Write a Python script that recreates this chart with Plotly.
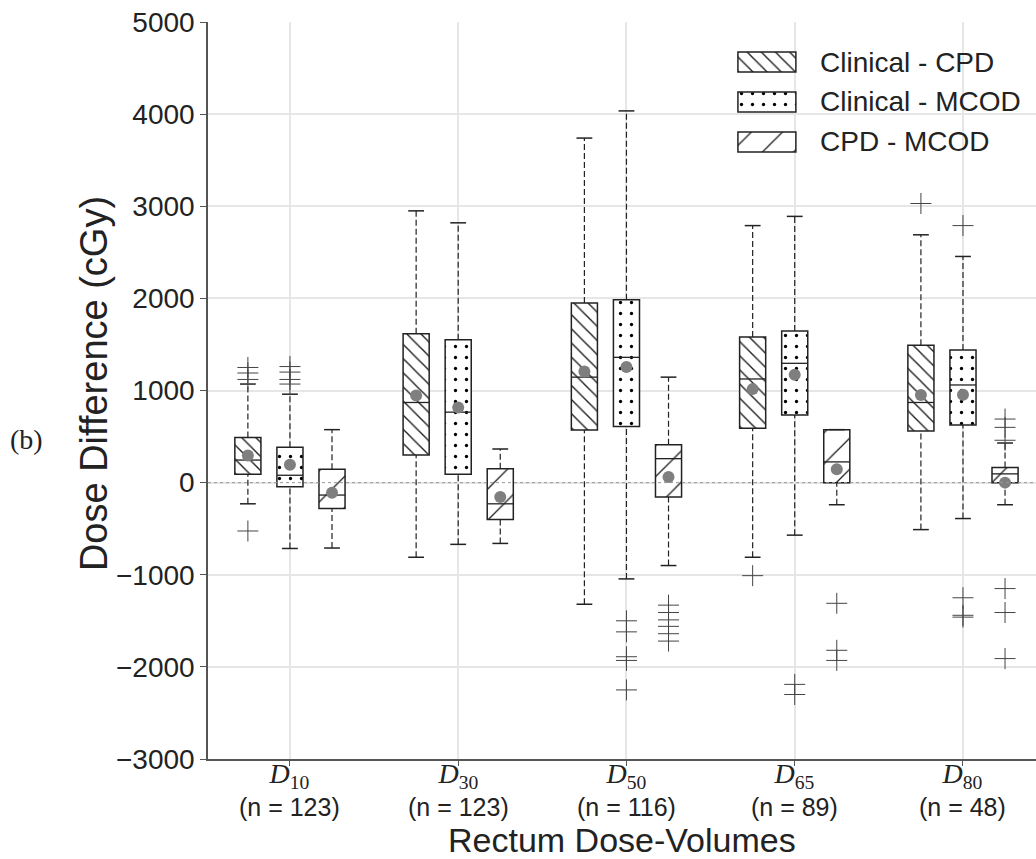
import plotly.graph_objects as go

# Rectum dose-volume metrics and sample sizes
groups = ["10", "30", "50", "65", "80"]
n_counts = [123, 123, 116, 89, 48]

series_names = ["Clinical - CPD", "Clinical - MCOD", "CPD - MCOD"]

# Box statistics (cGy) for each difference, one value per dose-volume
cpd_whislo = [-230, -810, -1320, -810, -510]
cpd_q1 = [90, 300, 570, 590, 560]
cpd_med = [245, 870, 1145, 1125, 870]
cpd_q3 = [490, 1615, 1950, 1580, 1490]
cpd_whishi = [1070, 2950, 3740, 2790, 2690]
cpd_mean = [295, 945, 1205, 1015, 950]
cpd_fliers = [[1250, 1190, 1120, -525], [], [], [-1010], [3030]]

mcod_whislo = [-715, -670, -1045, -570, -390]
mcod_q1 = [-45, 90, 610, 735, 625]
mcod_med = [80, 765, 1360, 1295, 1060]
mcod_q3 = [385, 1550, 1985, 1645, 1440]
mcod_whishi = [960, 2820, 4035, 2890, 2455]
mcod_mean = [195, 815, 1255, 1170, 955]
mcod_fliers = [[1260, 1200, 1120, 1070], [], [-1500, -1620, -1890, -1930, -2250],
               [-2190, -2300], [2790, -1250, -1440, -1460]]

diff_whislo = [-710, -660, -900, -240, -240]
diff_q1 = [-280, -400, -155, 0, 0]
diff_med = [-135, -230, 260, 225, 95]
diff_q3 = [145, 150, 410, 575, 165]
diff_whishi = [575, 365, 1145, 575, 430]
diff_mean = [-110, -155, 60, 145, 0]
diff_fliers = [[], [], [-1330, -1410, -1490, -1560, -1640, -1720],
               [-1310, -1820, -1930], [690, 600, 460, -1150, -1410, -1910]]

stats = [
    (cpd_whislo, cpd_q1, cpd_med, cpd_q3, cpd_whishi, cpd_mean, cpd_fliers),
    (mcod_whislo, mcod_q1, mcod_med, mcod_q3, mcod_whishi, mcod_mean, mcod_fliers),
    (diff_whislo, diff_q1, diff_med, diff_q3, diff_whishi, diff_mean, diff_fliers),
]

offsets = [-0.25, 0.0, 0.25]
box_w = 0.155
cap_half = 0.047
ink = "#222222"

patterns = [
    dict(shape="\\", size=10, solidity=0.14, fgcolor=ink, bgcolor="white", fillmode="replace"),
    dict(shape=".", size=11, solidity=0.07, fgcolor="black", bgcolor="white", fillmode="replace"),
    dict(shape="/", size=22, solidity=0.06, fgcolor=ink, bgcolor="white", fillmode="replace"),
]

fig = go.Figure()
centers = list(range(1, len(groups) + 1))

for k, (lo, q1, med, q3, hi, mean, fl) in enumerate(stats):
    xs = [c + offsets[k] for c in centers]

    # whiskers (dashed)
    wx, wy = [], []
    for x, a, b, c, d in zip(xs, lo, q1, q3, hi):
        wx += [x, x, None, x, x, None]
        wy += [a, b, None, c, d, None]
    fig.add_trace(go.Scatter(x=wx, y=wy, mode="lines", hoverinfo="skip", showlegend=False,
                             line=dict(color=ink, width=1.2, dash="6px,3px")))

    # whisker caps
    cx, cy = [], []
    for x, a, d in zip(xs, lo, hi):
        cx += [x - cap_half, x + cap_half, None, x - cap_half, x + cap_half, None]
        cy += [a, a, None, d, d, None]
    fig.add_trace(go.Scatter(x=cx, y=cy, mode="lines", hoverinfo="skip", showlegend=False,
                             line=dict(color=ink, width=1.5)))

    # boxes with hatch fill
    fig.add_trace(go.Bar(
        x=xs, base=q1, y=[b - a for a, b in zip(q1, q3)], width=box_w,
        name=series_names[k], showlegend=False,
        marker=dict(color="white", line=dict(color=ink, width=1.5), pattern=patterns[k]),
    ))

    # medians
    mx, my = [], []
    for x, m in zip(xs, med):
        mx += [x - box_w / 2, x + box_w / 2, None]
        my += [m, m, None]
    fig.add_trace(go.Scatter(x=mx, y=my, mode="lines", hoverinfo="skip", showlegend=False,
                             line=dict(color=ink, width=1.3)))

    # means
    fig.add_trace(go.Scatter(x=xs, y=mean, mode="markers", showlegend=False,
                             marker=dict(symbol="circle", size=12, color="#7f7f7f",
                                         line=dict(width=0))))

    # outliers
    ox, oy = [], []
    for x, vals in zip(xs, fl):
        ox += [x] * len(vals)
        oy += vals
    fig.add_trace(go.Scatter(x=ox, y=oy, mode="markers", showlegend=False,
                             marker=dict(symbol="cross-thin", size=15,
                                         line=dict(color="#444444", width=1))))

# Legend keys drawn on an overlay axis so the swatches are full size
leg_y = [0.9457, 0.8915, 0.8372]
for k in range(3):
    fig.add_trace(go.Bar(
        x=[0.675], base=[leg_y[k] - 0.0136], y=[0.0272], width=0.070,
        xaxis="x2", yaxis="y2", showlegend=False, hoverinfo="skip",
        marker=dict(color="white", line=dict(color=ink, width=1.5), pattern=patterns[k]),
    ))
    fig.add_annotation(x=0.737, y=leg_y[k], xref="x2", yref="y2", text=series_names[k],
                       showarrow=False, xanchor="left", yanchor="middle",
                       font=dict(family="Liberation Sans", size=28, color=ink))

# Category labels: dose-volume symbol over the sample size
for c, g, n in zip(centers, groups, n_counts):
    label = (f"<span style='font-family:Liberation Serif;font-size:28px'>"
             f"<i>D</i><sub>{g}</sub></span><br>(n = {n})")
    fig.add_annotation(x=c, y=-0.042, xref="x", yref="paper", text=label,
                       showarrow=False, xanchor="center", yanchor="middle",
                       font=dict(family="Liberation Sans", size=25, color=ink))

# Axis titles
fig.add_annotation(x=0.5, y=-0.1099, xref="paper", yref="paper", text="Rectum Dose-Volumes",
                   showarrow=False, xanchor="center", yanchor="middle",
                   font=dict(family="Liberation Sans", size=34, color=ink))
fig.add_annotation(x=-0.1377, y=0.51, xref="paper", yref="paper", text="Dose Difference (cGy)",
                   showarrow=False, xanchor="center", yanchor="middle", textangle=-90,
                   font=dict(family="Liberation Sans", size=38, color=ink))

fig.add_annotation(x=-0.2186, y=0.433, xref="paper", yref="paper", text="(b)",
                   showarrow=False, xanchor="center", yanchor="middle",
                   font=dict(family="Liberation Serif", size=28, color=ink))

fig.add_hline(y=0, line=dict(color="#999999", width=1, dash="dot"), layer="above")

fig.update_layout(
    width=1036, height=859,
    margin=dict(l=208, r=0, t=22, b=100, autoexpand=False),
    paper_bgcolor="white", plot_bgcolor="white",
    barmode="overlay",
    font=dict(family="Liberation Sans", size=28, color=ink),
    xaxis=dict(
        range=[0.513, 5.434], tickmode="array", tickvals=centers, showticklabels=False,
        ticks="outside", ticklen=5, tickcolor="#555555",
        showgrid=True, gridcolor="#e6e6e6", gridwidth=1.5,
        showline=True, linecolor="#555555", linewidth=1.5, zeroline=False,
    ),
    yaxis=dict(
        range=[-3000, 5000], tickmode="array",
        tickvals=[-3000, -2000, -1000, 0, 1000, 2000, 3000, 4000, 5000],
        ticks="outside", ticklen=6, tickcolor="#555555",
        showgrid=True, gridcolor="#e6e6e6", gridwidth=1.5,
        showline=True, linecolor="#555555", linewidth=1.5, zeroline=False,
        tickfont=dict(size=28),
    ),
    xaxis2=dict(overlaying="x", range=[0, 1], visible=False),
    yaxis2=dict(overlaying="y", range=[0, 1], visible=False),
)

fig.write_html("out.html")
